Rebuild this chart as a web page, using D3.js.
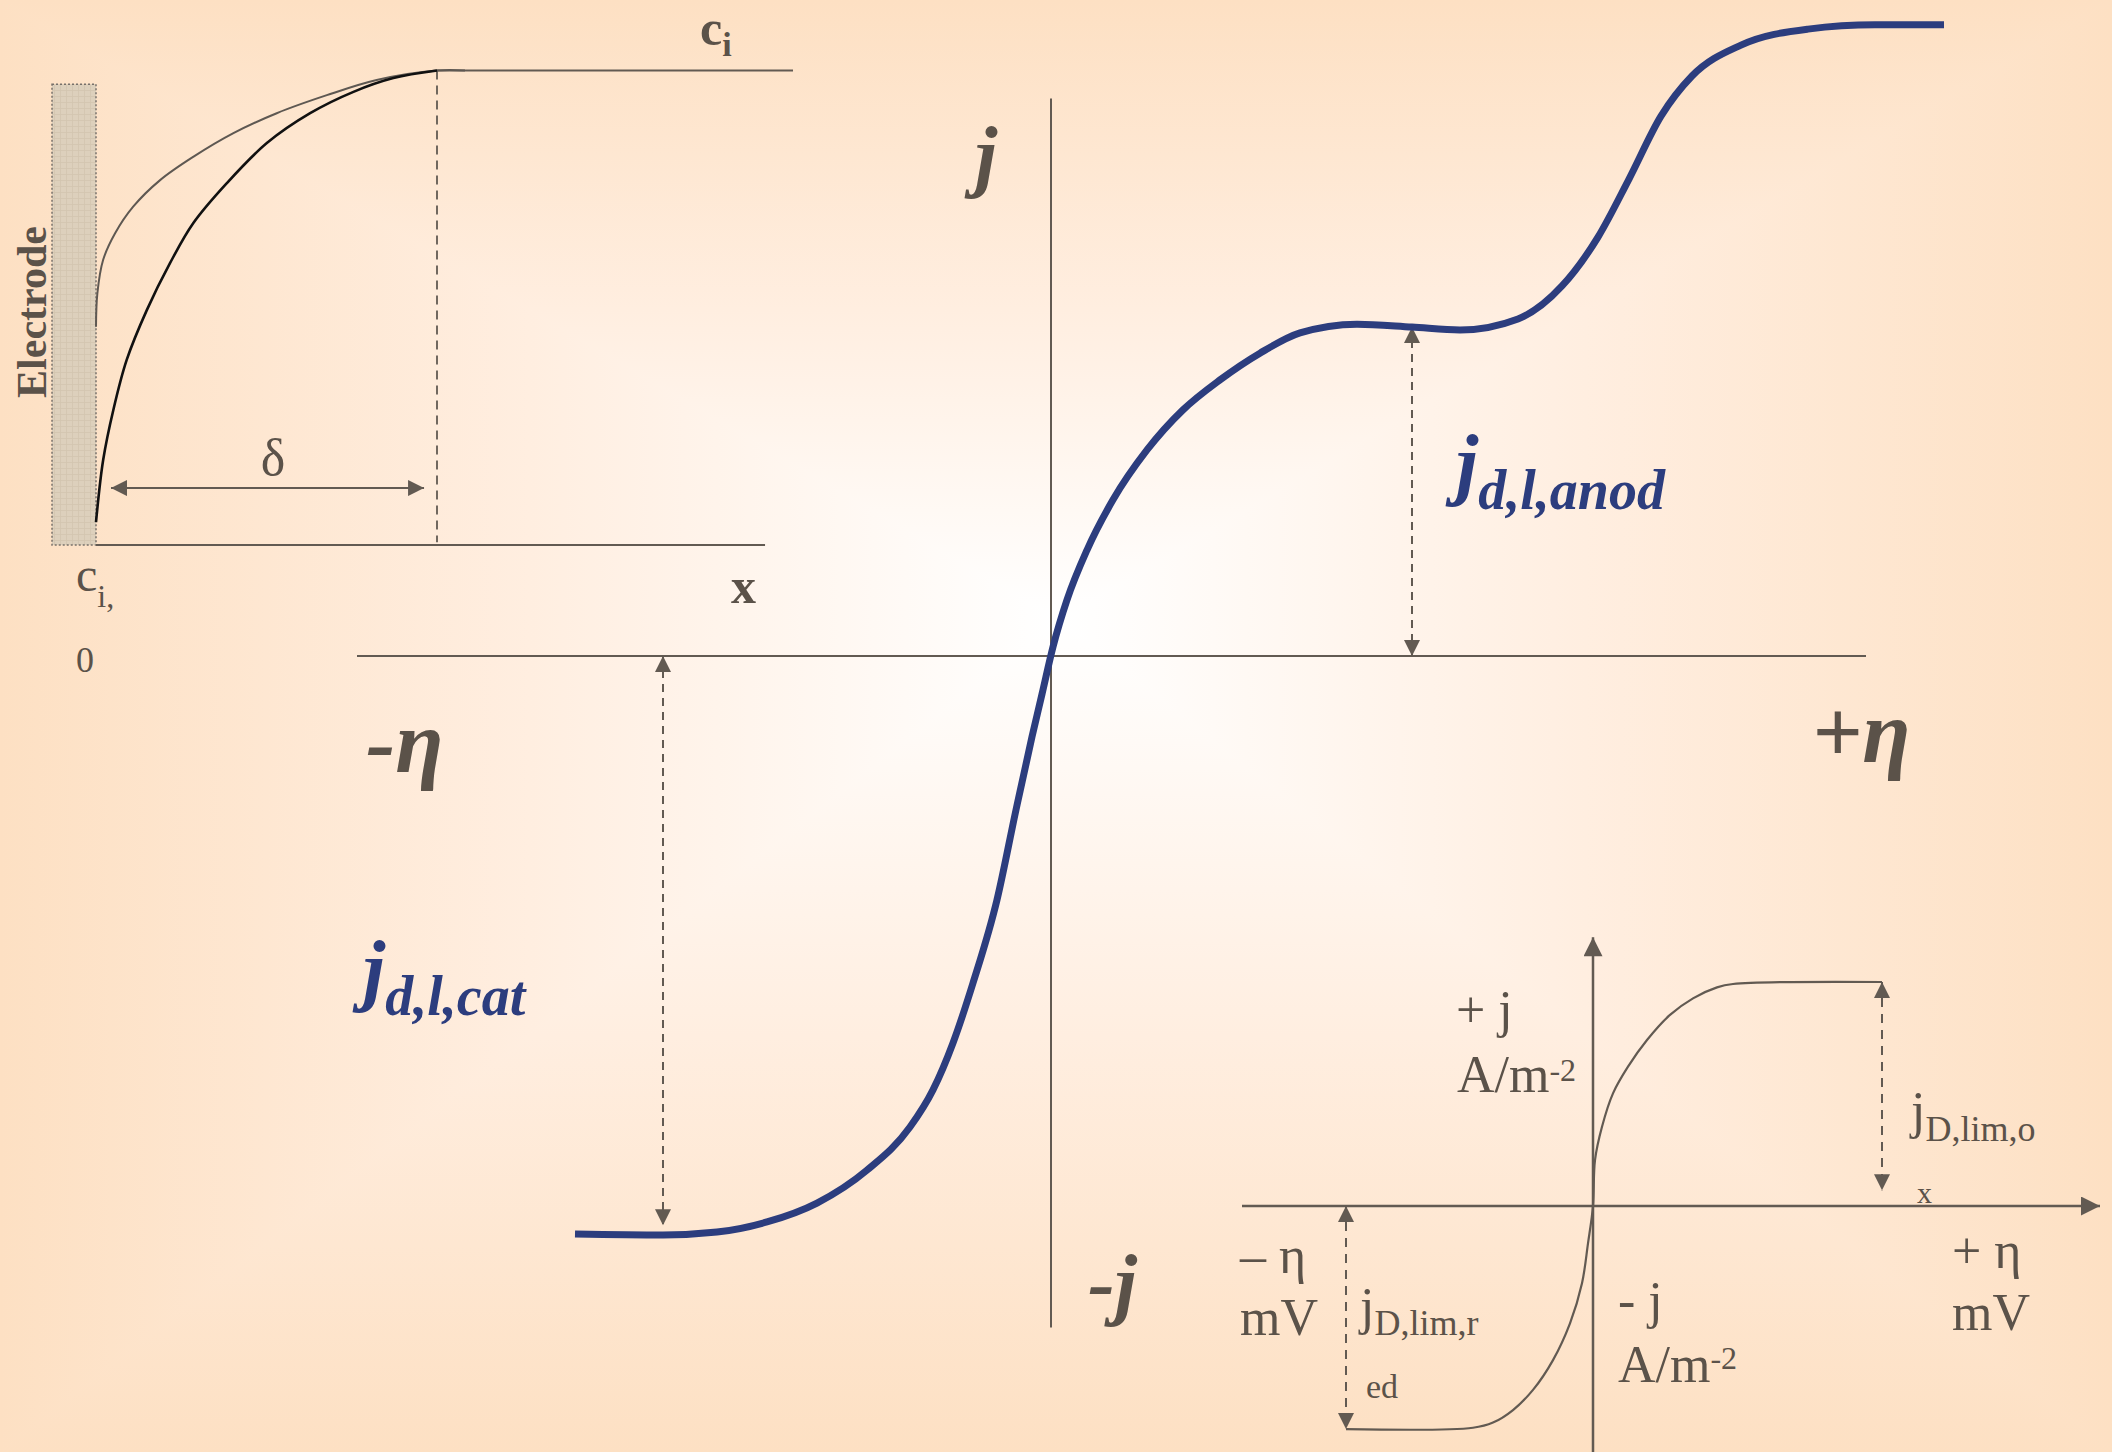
<!DOCTYPE html>
<html>
<head>
<meta charset="utf-8">
<script src="https://cdn.jsdelivr.net/npm/d3@7"></script>
<style>
  html, body { margin: 0; padding: 0; background: #fff; }
  svg { display: block; }
</style>
</head>
<body>
<script>
// ---------- Data ----------
// Main polarization curve: overpotential η (relative units) vs current density j (relative units)
const mainEta = [-4.76, -3.88, -3.34, -2.84, -2.34, -1.84, -1.41, -1.18, -0.98, -0.78, -0.54, -0.35,
  -0.19, -0.09, 0.02, 0.16, 0.36, 0.62, 0.96, 1.32, 1.69, 2.09, 2.49, 3.06, 3.61, 4.09, 4.67,
  5.11, 5.47, 5.78, 6.10, 6.41, 6.90, 7.57, 8.24, 8.93];
const mainJ = [-1.773, -1.776, -1.767, -1.736, -1.678, -1.577, -1.445, -1.331, -1.187, -1.003, -0.748, -0.472,
  -0.248, -0.117, 0.028, 0.172, 0.325, 0.479, 0.632, 0.755, 0.847, 0.929, 0.991, 1.018, 1.009, 1.000, 1.034,
  1.135, 1.285, 1.463, 1.656, 1.779, 1.874, 1.923, 1.936, 1.936];
const mainAxisEta = [-6.94, 8.15];
const mainAxisJ = [-2.06, 1.71];
// limiting current markers: [η, j at plateau]
const limitAnod = [3.61, 1.009];
const limitCat = [-3.88, -1.746];

// Concentration profile near the electrode: distance x/δ vs c/c_i
const profileSteepX = [0, 0.021, 0.051, 0.090, 0.149, 0.217, 0.285, 0.383, 0.501, 0.628, 0.755, 0.872, 1.0];
const profileSteepC = [0.048, 0.179, 0.285, 0.390, 0.495, 0.594, 0.678, 0.762, 0.847, 0.910, 0.955, 0.984, 1.0];
const profileFlatX = [0, 0.004, 0.021, 0.056, 0.109, 0.188, 0.285, 0.403, 0.530, 0.677, 0.823, 1.0, 1.082];
const profileFlatC = [0.460, 0.530, 0.601, 0.657, 0.713, 0.769, 0.818, 0.868, 0.910, 0.948, 0.980, 1.0, 1.0];
const profileAxisX = [0, 1.962];
const profileBulkX = [1.0, 2.044];
const electrodeX = [-0.129, 0];
const electrodeC = [0, 0.971];
const deltaArrowX = [0.044, 0.962];
const deltaArrowC = 0.12;

// Small diffusion-limited curve: η vs j
const smallEta = [-2.47, -1.20, -1.00, -0.80, -0.60, -0.40, -0.23, -0.11, -0.05, 0, 0.02, 0.09, 0.20, 0.35,
  0.54, 0.77, 1.00, 1.24, 1.40, 2.89];
const smallJ = [-0.996, -0.990, -0.967, -0.911, -0.821, -0.688, -0.524, -0.345, -0.167, 0, 0.205, 0.354, 0.503,
  0.622, 0.741, 0.853, 0.927, 0.976, 0.991, 1.0];
const smallAxisEta = [-3.51, 5.07];
const smallAxisJ = [-1.10, 1.20];
const smallLimOx = [2.89, 1.0, 0.07];
const smallLimRed = [-2.47, 0, -0.996];

// ---------- Layout ----------
const W = 2112, H = 1452;
const FONT = "'Liberation Serif', 'Times New Roman', Times, serif";
const GREY = "#5b5249";
const LINE = "#625a52";
const BLUE = "#2c3d7e";

const svg = d3.select("body").append("svg")
  .attr("width", W).attr("height", H)
  .attr("viewBox", `0 0 ${W} ${H}`);
const defs = svg.append("defs");

// ---------- Background: rectangular centre-out gradient ----------
const cx = 1060, cy = 620;
const edgeCol = "#fde0c3", midCol = "#ffeee0", centreCol = "#ffffff";
function bgGrad(id, x1, y1, x2, y2) {
  const g = defs.append("linearGradient").attr("id", id)
    .attr("gradientUnits", "userSpaceOnUse")
    .attr("x1", x1).attr("y1", y1).attr("x2", x2).attr("y2", y2);
  g.append("stop").attr("offset", 0).attr("stop-color", edgeCol);
  g.append("stop").attr("offset", 0.5).attr("stop-color", midCol);
  g.append("stop").attr("offset", 1).attr("stop-color", centreCol);
}
bgGrad("bgTop", 0, 0, 0, cy);
bgGrad("bgBottom", 0, H, 0, cy);
bgGrad("bgLeft", 0, 0, cx, 0);
bgGrad("bgRight", W, 0, cx, 0);
const bg = svg.append("g");
[
  ["bgTop", [[0, 0], [W, 0], [cx, cy]]],
  ["bgBottom", [[0, H], [W, H], [cx, cy]]],
  ["bgLeft", [[0, 0], [0, H], [cx, cy]]],
  ["bgRight", [[W, 0], [W, H], [cx, cy]]]
].forEach(([id, pts]) => {
  bg.append("polygon")
    .attr("points", pts.map(p => p.join(",")).join(" "))
    .attr("fill", `url(#${id})`)
    .attr("stroke", `url(#${id})`)
    .attr("stroke-width", 2);
});

// ---------- Markers ----------
function marker(id, len, wid) {
  defs.append("marker").attr("id", id)
    .attr("viewBox", "0 0 10 10").attr("refX", 10).attr("refY", 5)
    .attr("markerUnits", "userSpaceOnUse")
    .attr("markerWidth", len).attr("markerHeight", wid)
    .attr("orient", "auto-start-reverse")
    .append("path").attr("d", "M0,0L10,5L0,10Z").attr("fill", LINE);
}
marker("headMain", 18, 16);
marker("headSmall", 17, 16);
marker("headAxis", 20, 19);

// ---------- Main chart ----------
const xMain = d3.scaleLinear().domain([-7, 9]).range([351, 1951]);
const yMain = d3.scaleLinear().domain([-2, 2]).range([1308, 4]);
const gMain = svg.append("g");

gMain.append("line")
  .attr("x1", xMain(mainAxisEta[0])).attr("x2", xMain(mainAxisEta[1]))
  .attr("y1", yMain(0)).attr("y2", yMain(0))
  .attr("stroke", LINE).attr("stroke-width", 2);
gMain.append("line")
  .attr("x1", xMain(0)).attr("x2", xMain(0))
  .attr("y1", yMain(mainAxisJ[1])).attr("y2", yMain(mainAxisJ[0]))
  .attr("stroke", LINE).attr("stroke-width", 2);

// limiting-current dimension arrows
[limitAnod, limitCat].forEach(([eta, jl]) => {
  gMain.append("line")
    .attr("x1", xMain(eta)).attr("x2", xMain(eta))
    .attr("y1", yMain(0)).attr("y2", yMain(jl))
    .attr("stroke", LINE).attr("stroke-width", 2)
    .attr("stroke-dasharray", "8,6")
    .attr("marker-start", "url(#headMain)")
    .attr("marker-end", "url(#headMain)");
});

const mainData = mainEta.map((e, i) => [e, mainJ[i]]);
gMain.append("path")
  .datum(mainData)
  .attr("d", d3.line().x(d => xMain(d[0])).y(d => yMain(d[1])).curve(d3.curveMonotoneX))
  .attr("fill", "none").attr("stroke", BLUE).attr("stroke-width", 7);

// text helper: a label made of tspans (for subscripts / superscripts)
function label(g, x, y, parts, opts) {
  const t = g.append("text").attr("x", x).attr("y", y)
    .attr("font-family", FONT)
    .attr("fill", opts.fill || GREY)
    .attr("font-weight", opts.weight || "normal")
    .attr("font-style", opts.style || "normal")
    .attr("font-size", opts.size);
  if (opts.anchor) t.attr("text-anchor", opts.anchor);
  parts.forEach(p => {
    const s = t.append("tspan").text(p.text);
    if (p.size) s.attr("font-size", p.size);
    if (p.dy) s.attr("dy", p.dy);
  });
  return t;
}
const bi = { weight: "bold", style: "italic", size: 80 };
label(gMain, 975, 182, [{ text: "j" }], bi);
label(gMain, 1088, 1310, [{ text: "-j" }], bi);
label(gMain, 366, 772, [{ text: "-η" }], { weight: "bold", style: "italic", size: 88 });
label(gMain, 1812, 762, [{ text: "+η" }], { weight: "bold", style: "italic", size: 88 });
label(gMain, 1456, 490, [{ text: "j" }, { text: "d,l,anod", size: 56, dy: 19 }],
  { weight: "bold", style: "italic", size: 80, fill: BLUE });
label(gMain, 363, 996, [{ text: "j" }, { text: "d,l,cat", size: 56, dy: 19 }],
  { weight: "bold", style: "italic", size: 80, fill: BLUE });

// ---------- Concentration profile (top left) ----------
const xProf = d3.scaleLinear().domain([0, 1]).range([96, 437]);
const yProf = d3.scaleLinear().domain([0, 1]).range([545, 70.5]);
const gProf = svg.append("g");

const pat = defs.append("pattern").attr("id", "electrodeGrid")
  .attr("patternUnits", "userSpaceOnUse").attr("width", 6).attr("height", 6);
pat.append("rect").attr("width", 6).attr("height", 6).attr("fill", "#ddd0bc");
pat.append("path").attr("d", "M0,0.5H6M0.5,0V6").attr("stroke", "#d3c5b0").attr("stroke-width", 0.8);

gProf.append("rect")
  .attr("x", xProf(electrodeX[0])).attr("width", xProf(electrodeX[1]) - xProf(electrodeX[0]))
  .attr("y", yProf(electrodeC[1])).attr("height", yProf(electrodeC[0]) - yProf(electrodeC[1]))
  .attr("fill", "url(#electrodeGrid)")
  .attr("stroke", "#77706a").attr("stroke-width", 1.5).attr("stroke-dasharray", "2,2");

gProf.append("line")
  .attr("x1", xProf(profileAxisX[0])).attr("x2", xProf(profileAxisX[1]))
  .attr("y1", yProf(0)).attr("y2", yProf(0))
  .attr("stroke", LINE).attr("stroke-width", 2.2);
gProf.append("line")
  .attr("x1", xProf(profileBulkX[0])).attr("x2", xProf(profileBulkX[1]))
  .attr("y1", yProf(1)).attr("y2", yProf(1))
  .attr("stroke", LINE).attr("stroke-width", 2.2);
gProf.append("line")
  .attr("x1", xProf(1)).attr("x2", xProf(1))
  .attr("y1", yProf(1)).attr("y2", yProf(0.006))
  .attr("stroke", LINE).attr("stroke-width", 1.8).attr("stroke-dasharray", "9,6");

const profLine = d3.line().x(d => xProf(d[0])).y(d => yProf(d[1])).curve(d3.curveCatmullRom.alpha(0.5));
gProf.append("path")
  .datum(profileFlatX.map((x, i) => [x, profileFlatC[i]]))
  .attr("d", profLine).attr("fill", "none").attr("stroke", "#5e5852").attr("stroke-width", 2);
gProf.append("path")
  .datum(profileSteepX.map((x, i) => [x, profileSteepC[i]]))
  .attr("d", profLine).attr("fill", "none").attr("stroke", "#111").attr("stroke-width", 2.6);

gProf.append("line")
  .attr("x1", xProf(deltaArrowX[0])).attr("x2", xProf(deltaArrowX[1]))
  .attr("y1", yProf(deltaArrowC)).attr("y2", yProf(deltaArrowC))
  .attr("stroke", LINE).attr("stroke-width", 2)
  .attr("marker-start", "url(#headSmall)").attr("marker-end", "url(#headSmall)");

label(gProf, 273, 475, [{ text: "δ" }], { size: 52, anchor: "middle" });
label(gProf, 700, 45, [{ text: "c" }, { text: "i", size: 34, dy: 11 }], { weight: "bold", size: 50 });
label(gProf, 76, 591, [{ text: "c" }, { text: "i,", size: 32, dy: 16 }], { size: 48 });
label(gProf, 76, 672, [{ text: "0" }], { size: 36 });
label(gProf, 731, 603, [{ text: "x" }], { weight: "bold", size: 50 });
gProf.append("text")
  .attr("transform", "translate(46,312) rotate(-90)")
  .attr("text-anchor", "middle")
  .attr("font-family", FONT).attr("font-weight", "bold").attr("font-size", 42)
  .attr("fill", GREY)
  .text("Electrode");

// ---------- Diffusion-limited curve (bottom right) ----------
const xSmall = d3.scaleLinear().domain([0, 1]).range([1593, 1693]);
const ySmall = d3.scaleLinear().domain([0, 1]).range([1206, 982]);
const gSmall = svg.append("g");

gSmall.append("line")
  .attr("x1", xSmall(smallAxisEta[0])).attr("x2", xSmall(smallAxisEta[1]))
  .attr("y1", ySmall(0)).attr("y2", ySmall(0))
  .attr("stroke", LINE).attr("stroke-width", 2.5)
  .attr("marker-end", "url(#headAxis)");
gSmall.append("line")
  .attr("x1", xSmall(0)).attr("x2", xSmall(0))
  .attr("y1", ySmall(smallAxisJ[0])).attr("y2", ySmall(smallAxisJ[1]))
  .attr("stroke", LINE).attr("stroke-width", 2.5)
  .attr("marker-end", "url(#headAxis)");

[smallLimOx, smallLimRed].forEach(([eta, j0, j1]) => {
  gSmall.append("line")
    .attr("x1", xSmall(eta)).attr("x2", xSmall(eta))
    .attr("y1", ySmall(j0)).attr("y2", ySmall(j1))
    .attr("stroke", LINE).attr("stroke-width", 2)
    .attr("stroke-dasharray", "9,7")
    .attr("marker-start", "url(#headSmall)")
    .attr("marker-end", "url(#headSmall)");
});

gSmall.append("path")
  .datum(smallEta.map((e, i) => [e, smallJ[i]]))
  .attr("d", d3.line().x(d => xSmall(d[0])).y(d => ySmall(d[1])).curve(d3.curveCatmullRom.alpha(0.5)))
  .attr("fill", "none").attr("stroke", LINE).attr("stroke-width", 2.2);

const reg = { size: 52 };
label(gSmall, 1456, 1027, [{ text: "+ j" }], reg);
label(gSmall, 1457, 1092, [{ text: "A/m" }, { text: "-2", size: 32, dy: -11 }], reg);
label(gSmall, 1911, 1128, [{ text: "j" }, { text: "D,lim,o", size: 36, dy: 13 }], reg);
label(gSmall, 1917, 1203, [{ text: "x" }], { size: 30 });
label(gSmall, 1240, 1273, [{ text: "– η" }], reg);
label(gSmall, 1240, 1335, [{ text: "mV" }], reg);
label(gSmall, 1360, 1324, [{ text: "j" }, { text: "D,lim,r", size: 36, dy: 11 }], reg);
label(gSmall, 1366, 1398, [{ text: "ed" }], { size: 34 });
label(gSmall, 1618, 1318, [{ text: "- j" }], reg);
label(gSmall, 1618, 1382, [{ text: "A/m" }, { text: "-2", size: 32, dy: -13 }], reg);
label(gSmall, 1952, 1268, [{ text: "+ η" }], reg);
label(gSmall, 1952, 1330, [{ text: "mV" }], reg);
</script>
</body>
</html>
